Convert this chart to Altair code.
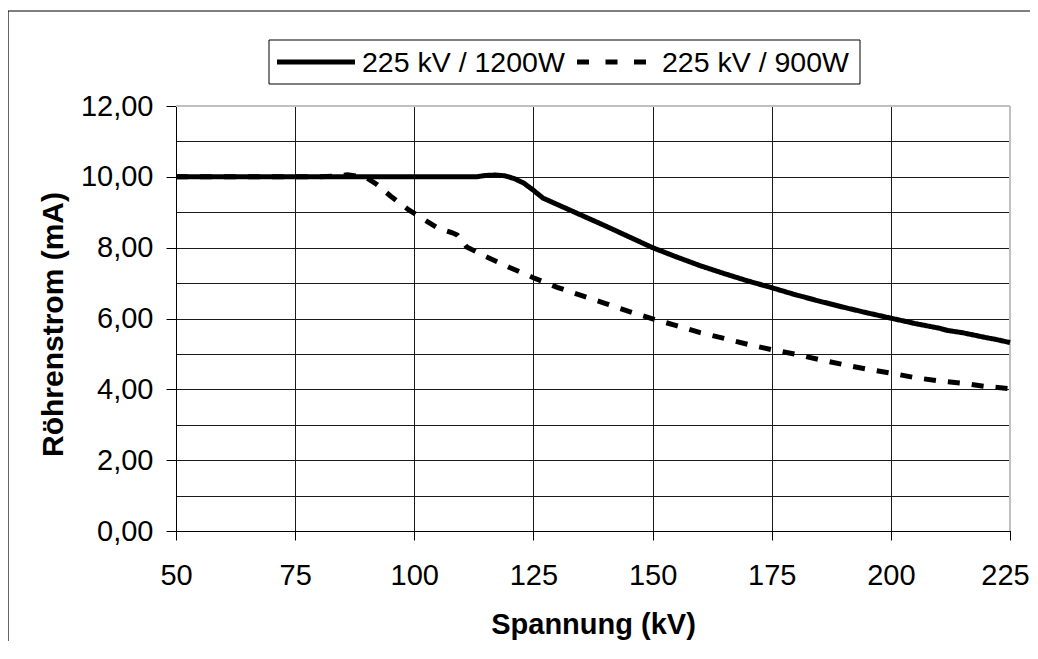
import altair as alt
import pandas as pd

# --- data ---
series_names = ["225 kV / 1200W", "225 kV / 900W"]

kv_1200 = [50, 60, 70, 80, 90, 100, 110, 113, 115, 117, 119, 121, 123, 125, 127,
           130, 135, 140, 145, 150, 155, 160, 165, 170, 175, 180, 185, 190, 195,
           200, 205, 210, 212, 215, 220, 222, 225]
ma_1200 = [10.00, 10.00, 10.00, 10.00, 10.00, 10.00, 10.00, 10.00, 10.04, 10.05, 10.03,
           9.95, 9.82, 9.62, 9.40, 9.22, 8.92, 8.62, 8.31, 8.00, 7.74, 7.49, 7.27,
           7.06, 6.87, 6.67, 6.49, 6.32, 6.16, 6.01, 5.86, 5.73, 5.66, 5.60, 5.46,
           5.41, 5.32]

kv_900 = [50, 60, 70, 80, 84, 86, 88, 90, 92, 95, 99, 102, 105, 108, 109, 111,
          115, 120, 125, 130, 135, 140, 145, 150, 155, 160, 165, 170, 175, 180,
          185, 190, 195, 200, 205, 210, 215, 220, 225]
ma_900 = [10.00, 10.00, 10.00, 10.00, 10.02, 10.06, 10.02, 9.97, 9.80, 9.46, 9.05,
          8.80, 8.55, 8.42, 8.36, 8.02, 7.75, 7.44, 7.15, 6.88, 6.65, 6.43, 6.20,
          5.99, 5.80, 5.60, 5.44, 5.27, 5.12, 4.99, 4.84, 4.70, 4.57, 4.46, 4.33,
          4.24, 4.17, 4.08, 4.02]

x_ticks = [50, 75, 100, 125, 150, 175, 200, 225]
y_grid = [0, 1, 2, 3, 4, 5, 6, 7, 8, 9, 10, 11, 12]

rows = []
for i, (x, y) in enumerate(zip(kv_1200, ma_1200)):
    rows.append({"kv": x, "ma": y, "serie": series_names[0], "ord": i})
for i, (x, y) in enumerate(zip(kv_900, ma_900)):
    rows.append({"kv": x, "ma": y, "serie": series_names[1], "ord": i})
df = pd.DataFrame(rows)

FONT = "Liberation Sans"
DASH = [12, 12]

lines = alt.Chart(df).mark_line(color="black", strokeWidth=5, strokeCap="butt").encode(
    x=alt.X("kv:Q",
            scale=alt.Scale(domain=[50, 225], nice=False, zero=False),
            axis=alt.Axis(values=x_ticks, title="Spannung (kV)", tickSize=9,
                          labelPadding=21, labelFontSize=29, titleFontSize=29,
                          titleFontWeight="bold", titleBaseline="alphabetic",
                          titleY=102, labelFlush=False,
                          labelOffset={"condition": {"test": "datum.value == 225", "value": -5}, "value": 0})),
    y=alt.Y("ma:Q",
            scale=alt.Scale(domain=[0, 12], nice=False),
            axis=alt.Axis(values=y_grid, title="Röhrenstrom (mA)",
                          labelExpr="datum.value % 2 == 0 ? replace(format(datum.value, '.2f'), '.', ',') : ''",
                          tickSize=10, labelPadding=13, labelFontSize=29,
                          tickOpacity={"condition": {"test": "datum.value % 2 == 0", "value": 1}, "value": 0},
                          titleFontSize=30, titleFontWeight="bold",
                          titleBaseline="alphabetic", titleAlign="center",
                          titleAngle=270, titleX=-114, titleY=218)),
    strokeDash=alt.StrokeDash("serie:N",
                              scale=alt.Scale(domain=series_names, range=[[1, 0], DASH]),
                              legend=None),
    order="ord:Q",
)

one = pd.DataFrame({"a": [0]})

# outer frame (only top and left edges are inside the picture)
frame_top = alt.Chart(one).mark_rule(stroke="black", strokeWidth=1.2, clip=False).encode(
    x=alt.value(-168), x2=alt.value(854), y=alt.value(-95))
frame_left = alt.Chart(one).mark_rule(stroke="black", strokeWidth=1.2, clip=False).encode(
    x=alt.value(-168), y=alt.value(-95), y2=alt.value(535))

# light grey top and right edges of the plot area
plot_top = alt.Chart(one).mark_rule(stroke="#c0c0c0", strokeWidth=2, clip=False).encode(
    x=alt.value(0), x2=alt.value(834), y=alt.value(0))
plot_right = alt.Chart(one).mark_rule(stroke="#c0c0c0", strokeWidth=2, clip=False).encode(
    x=alt.value(834), y=alt.value(0), y2=alt.value(425))

# legend
leg_box = alt.Chart(one).mark_rect(fill="white", stroke="black", strokeWidth=1, clip=False).encode(
    x=alt.value(93), x2=alt.value(684), y=alt.value(-66), y2=alt.value(-22))
leg_sym1 = alt.Chart(one).mark_rule(stroke="black", strokeWidth=5, clip=False).encode(
    x=alt.value(101), x2=alt.value(179), y=alt.value(-44))
leg_sym2 = alt.Chart(one).mark_rule(stroke="black", strokeWidth=5, strokeDash=[12, 16.5],
                                    strokeCap="butt", clip=False).encode(
    x=alt.value(401), x2=alt.value(470), y=alt.value(-44))
leg_txt1 = alt.Chart(pd.DataFrame({"t": [series_names[0]]})).mark_text(
    align="left", baseline="middle", fontSize=28.5, font=FONT, color="black", clip=False
).encode(text="t:N", x=alt.value(186), y=alt.value(-43))
leg_txt2 = alt.Chart(pd.DataFrame({"t": [series_names[1]]})).mark_text(
    align="left", baseline="middle", fontSize=28.5, font=FONT, color="black", clip=False
).encode(text="t:N", x=alt.value(486), y=alt.value(-43))

chart = alt.layer(frame_top, frame_left, plot_top, plot_right, lines, leg_box, leg_sym1,
                  leg_sym2, leg_txt1, leg_txt2).properties(
    width=834, height=425,
    autosize=alt.AutoSizeParams(type="none"),
    padding={"left": 168, "top": 98, "right": 20, "bottom": 110},
).configure(font=FONT).configure_view(
    stroke="transparent", strokeWidth=0
).configure_axis(
    grid=True, gridColor="#1a1a1a", gridWidth=1, domainColor="black", domainWidth=1,
    tickColor="black", tickWidth=1, labelColor="black", titleColor="black",
    labelFont=FONT, titleFont=FONT
)

chart.save("out.html", embed_options={"renderer": "svg", "actions": False})
